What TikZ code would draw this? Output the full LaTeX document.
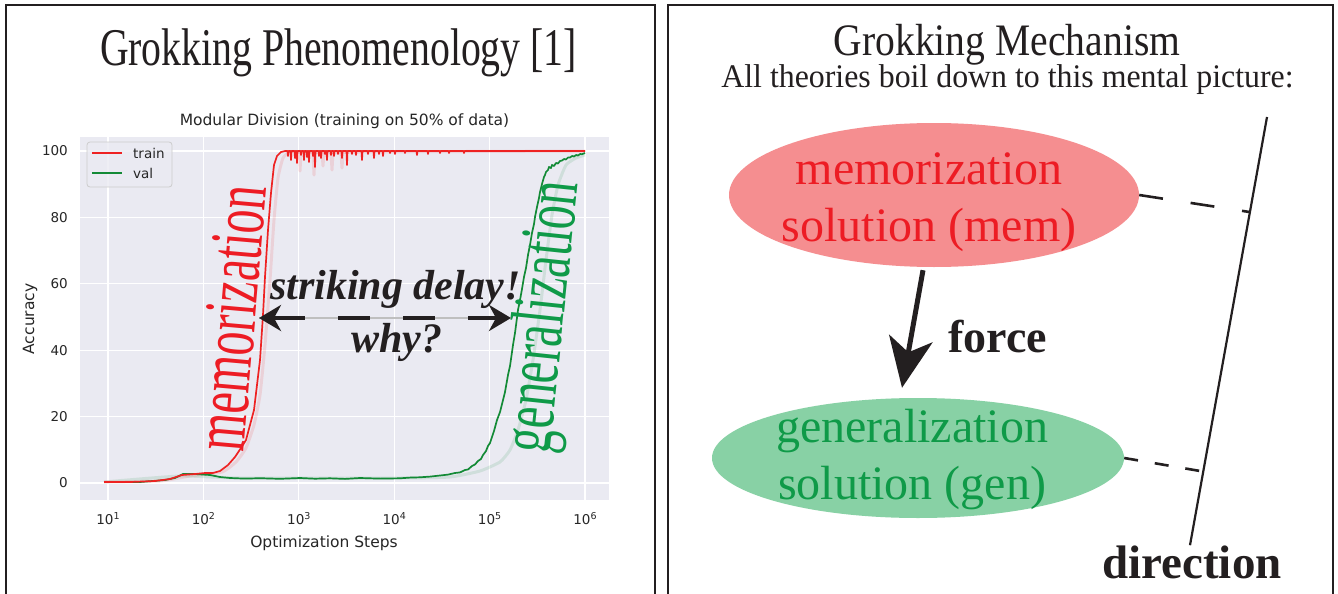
\documentclass[tikz,border=0pt]{standalone}
\usepackage{fontspec}
\setmainfont{Liberation Serif}
\newfontfamily\plotfont{DejaVu Sans}
\usetikzlibrary{arrows.meta,shapes.geometric,calc}

\definecolor{ink}{HTML}{231F20}
\definecolor{axbg}{HTML}{EAEAF2}
\definecolor{plottext}{HTML}{262626}
\definecolor{trainred}{HTML}{EE2222}
\definecolor{valgreen}{HTML}{138A36}
\definecolor{memfill}{HTML}{F58E90}
\definecolor{memtext}{HTML}{ED1C24}
\definecolor{genfill}{HTML}{88D1A5}
\definecolor{gentext}{HTML}{0F9A48}

\newcommand{\fsz}[2]{\fontsize{#1}{#2}\selectfont}

\tikzset{
  panel/.style={draw=ink, line width=2.4pt},
  gridln/.style={draw=white, line width=1.3pt},
  tick/.style={font=\plotfont\fsz{13.5}{16}, text=plottext, inner sep=0pt},
  axlabel/.style={tick, font=\plotfont\fsz{15.5}{18}},
  trainln/.style={draw=trainred, line width=1.7pt, line join=round},
  valln/.style={draw=valgreen, line width=1.7pt, line join=round},
  ghostred/.style={draw=trainred, opacity=0.12, line width=3pt, line join=round},
  ghostgreen/.style={draw=valgreen, opacity=0.12, line width=3pt, line join=round},
  bigtitle/.style={inner sep=0pt, text=ink, anchor=base},
  sideword/.style={inner sep=0pt, anchor=center},
  blob/.style={ellipse, inner sep=0pt},
  blobtext/.style={inner sep=0pt, align=center, font=\fsz{48}{57}},
  boldword/.style={inner sep=0pt, anchor=base, text=ink, font=\bfseries\fsz{46}{46}},
  slanted/.style={inner sep=0pt, anchor=base, text=ink, font=\bfseries\itshape\fsz{42}{42}},
  forcearrow/.style={draw=ink, line width=5pt, -{Stealth[length=50pt,width=44pt,inset=14pt]}},
  delayarrow/.style={draw=ink, line width=3.5pt, dash pattern=on 32pt off 33pt,
    {Stealth[length=22pt,width=26pt,inset=7pt]}-{Stealth[length=22pt,width=26pt,inset=7pt]}},
  guide/.style={draw=ink, line width=2.2pt},
}

\begin{document}
\begin{tikzpicture}[x=1pt,y=-1pt]
\useasboundingbox (0,0) rectangle (1338,594);
\fill[white] (0,0) rectangle (1338,594);

% ---------- panel frames ----------
\draw[panel] (6,600) -- (6,5) -- (655,5) -- (655,600);
\draw[panel] (668,600) -- (668,5) -- (1333,5) -- (1333,600);

% ---------- left panel ----------
\node[bigtitle] (lefttitle) at (338.5,66)
  {\scalebox{0.75}[1]{\fsz{53}{53}Grokking Phenomenology [1]}};

% axes background and grid
\fill[axbg] (80,137) rectangle (609,500);
\foreach \yy in {151,217.4,283.8,350.2,416.6,483}
  \draw[gridln] (80,\yy) -- (609,\yy);
\foreach \xx in {108,203.4,298.8,394.2,489.6,585}
  \draw[gridln] (\xx,137) -- (\xx,500);

% plot title and axis labels
\node[axlabel] (ptitle) at (344.5,121) {Modular Division (training on 50\% of data)};
\foreach \yy/\lab in {151/100,217.4/80,283.8/60,350.2/40,416.6/20,483/0}
  \node[tick, anchor=east] at (68,\yy) {\lab};
\foreach \xx/\ex in {108/1,203.4/2,298.8/3,394.2/4,489.6/5,585/6}
  \node[tick] at (\xx,519) {10\raisebox{5pt}{\fsz{9.5}{10}\ex}};
\node[axlabel] (xlab) at (324,543) {Optimization Steps};
\node[axlabel, rotate=90] (ylab) at (30,319) {Accuracy};

% faint seed copies
\draw[ghostred] plot[smooth, tension=0.3] coordinates {
  (104,482) (160,481) (190,476) (222,472) (236,462) (246,448) (254,425) (260,395)
  (265,345) (270,280) (274,220) (278,178) (283,158) (290,152) (310,152) (330,153) (360,152) (585,151)};
\draw[ghostred] (299,152) -- (300,171) -- (301,152) (313,152) -- (314,175) -- (315,152)
  (331,152) -- (332,170) -- (333,152) (341,152) -- (342,168) -- (343,152)
  (322,152) -- (323,166) -- (324,152);
\draw[ghostgreen] plot[smooth, tension=0.3] coordinates {
  (104,482) (180,476) (240,478) (400,478) (450,477) (480,471) (500,462) (510,450)
  (518,430) (526,400) (533,360) (540,310) (546,260) (552,215) (558,185) (566,165) (576,158) (585,155)};

% validation accuracy
\draw[valln] plot coordinates {
  (104,482) (140,482) (165,480) (175,478) (183,474) (195,474) (210,475) (220,477)
  (230,478) (245,478.6) (260,478.2) (280,478.8) (300,478) (315,478.7) (330,478.3)
  (345,478.9) (360,478) (380,478.6) (400,478.3) (410,477.6) (420,477.3)
  (430,476.6) (440,475.5) (448,474.6) (455,473) (460,472.4) (465,470) (468,469.5) (472,466)
  (475,464.5) (478,461) (481,459) (483,455) (486,451) (488,446) (490,443) (492,437)
  (494,431) (497,420) (500,412) (503,400) (505,392) (508,375) (510,366) (513,345)
  (515,333) (518,310) (520,300) (522,289) (524,277) (526,268) (528,255) (530,245)
  (532,233) (534,224) (535,217) (537,207) (539,198) (540,192) (542,184) (544,177)
  (545,175) (546,172) (548,170) (549,167) (551,168) (552,165) (554,166) (556,163)
  (558,163.5) (560,161) (562,160.5) (564,159) (566,159.5) (568,157.5) (570,157.5)
  (572,156) (574,156.5) (576,155) (578,155.5) (580,154) (582,154.2) (585,153)};

% training accuracy
\draw[trainln] plot coordinates {
  (104,482) (130,482) (155,481) (170,479) (182,475) (195,474) (205,473) (213,473)
  (220,471) (228,465) (235,457) (241,448) (246,440) (250,425) (254,410) (257,385)
  (260,360) (263,315) (265,277) (268,230) (271,193) (274,165) (277,156) (281,152)
  (285,151)
  (287.5,151) (288,156) (288.5,151) (290.5,151) (291,160) (291.5,151)
  (294.5,151) (295,158) (295.5,151) (296.5,151) (297,163) (297.5,151)
  (300.5,151) (301,155) (301.5,151) (303.5,151) (304,160) (304.5,151)
  (306.5,151) (307,157) (307.5,151) (308.5,151) (309,162) (309.5,151)
  (312.5,151) (313,156) (313.5,151) (314.5,151) (315,167) (315.5,151)
  (318.5,151) (319,156) (319.5,151) (320.5,151) (321,158) (321.5,151)
  (324.5,151) (325,154) (325.5,151) (326.5,151) (327,160) (327.5,151)
  (330.5,151) (331,155) (331.5,151) (333.5,151) (334,156) (334.5,151)
  (337.5,151) (338,154) (338.5,151) (341.5,151) (342,158) (342.5,151)
  (346.5,151) (347,165) (347.5,151) (351.5,151) (352,154) (352.5,151)
  (355.5,151) (356,155) (356.5,151) (361.5,151) (362,160) (362.5,151)
  (367.5,151) (368,154) (368.5,151) (373.5,151) (374,158) (374.5,151)
  (378.5,151) (379,154) (379.5,151) (382.5,151) (383,156) (383.5,151)
  (389.5,151) (390,153) (390.5,151) (394.5,151) (395,154) (395.5,151)
  (404.5,151) (405,153) (405.5,151) (416.5,151) (417,155) (417.5,151)
  (427.5,151) (428,154) (428.5,151) (439.5,151) (440,153) (440.5,151)
  (448.5,151) (449,153) (449.5,151) (463.5,151) (464,153) (464.5,151)
  (585,151)};

% legend
\draw[draw=black!20, fill=axbg, fill opacity=0.8, rounded corners=3pt, line width=0.8pt]
  (87,142) rectangle (172,187);
\draw[trainln] (92,153) -- (122,153);
\draw[valln] (92,173) -- (122,173);
\node[tick, anchor=west] (legtrain) at (133,153) {train};
\node[tick, anchor=west] (legval) at (133,173) {val};

% annotations on the plot
\node[sideword, text=memtext, rotate=85] (memword) at (231,318)
  {\scalebox{0.64}[1]{\fsz{75}{75}memorization}};
\node[sideword, text=gentext, rotate=84] (genword) at (546,317)
  {\scalebox{0.64}[1]{\fsz{75}{75}generalization}};

\coordinate (delayL) at (259,318);
\coordinate (delayR) at (511,318);
\draw[black!25, line width=1.2pt] (delayL) -- (delayR);
\draw[delayarrow] (delayL) -- (delayR);
\node[slanted] (strike) at (395.5,299) {striking delay!};
\node[slanted] (why) at (397,352) {why?};

% ---------- right panel ----------
\node[bigtitle] (righttitle) at (1007,56)
  {\scalebox{0.88}[1]{\fsz{45}{45}Grokking Mechanism}};
\node[bigtitle] (subtitle) at (1007.5,88)
  {\scalebox{0.965}[1]{\fsz{33}{33}All theories boil down to this mental picture:}};

\node[blob, fill=memfill, minimum width=410pt, minimum height=144pt] (mem) at (934,195) {};
\node[blobtext, text=memtext] (memtxt) at ([xshift=-5pt,yshift=-7pt]mem.center)
  {memorization\\solution (mem)};

\node[blob, fill=genfill, minimum width=412pt, minimum height=120pt] (gen) at (918,458) {};
\node[blobtext, text=gentext] (gentxt) at ([xshift=-6pt,yshift=-2pt]gen.center)
  {generalization\\solution (gen)};

\draw[forcearrow] ([shift={(-11,3)}]mem.south) -- ([shift={(-16,-10)}]gen.north);
\node[boldword] (force) at (998,352) {force};

\node[boldword, font=\bfseries\fsz{47}{47}] (dirword) at (1192,578) {direction};
\coordinate (dtop) at (1267,117);
\draw[guide] (dtop) -- ([xshift=-2pt]dirword.north);

\coordinate (dmem) at ($(dtop)!0.222!([xshift=-2pt]dirword.north)$);
\coordinate (dgen) at ($(dtop)!0.828!([xshift=-2pt]dirword.north)$);
\draw[draw=ink, line width=2.6pt, dash pattern=on 24pt off 28pt] (mem.east) -- (dmem);
\draw[draw=ink, line width=2.6pt, dash pattern=on 14pt off 17pt] (gen.east) -- (dgen);
\end{tikzpicture}
\end{document}
